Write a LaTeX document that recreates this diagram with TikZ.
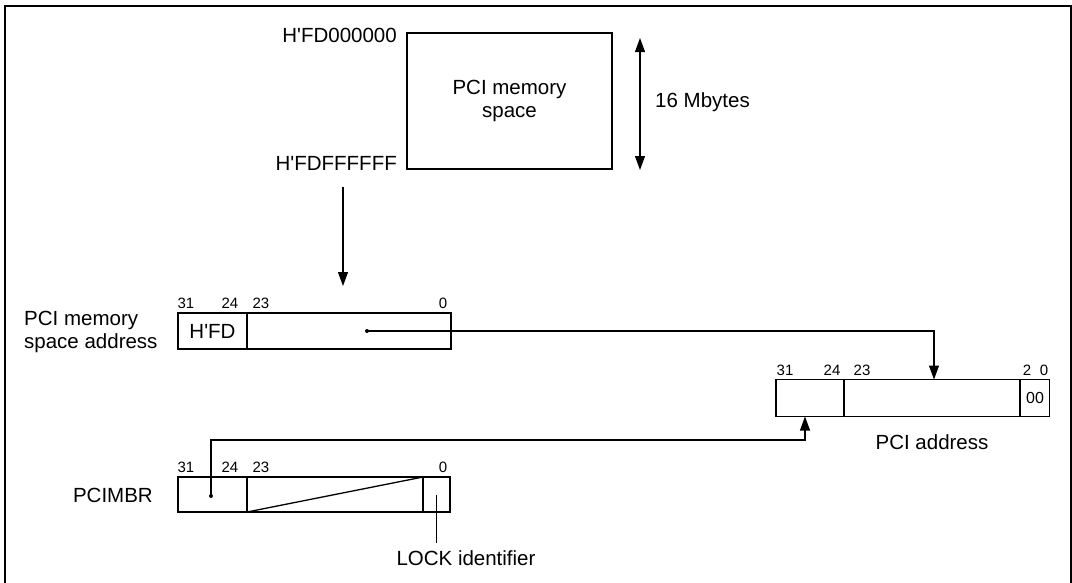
\documentclass[tikz,border=0pt]{standalone}
\usepackage{fontspec}
\setmainfont{Liberation Sans}
\usetikzlibrary{arrows.meta}
\newcommand{\apo}{\textquotesingle}
\tikzset{
  big/.style={font=\fontsize{20.5}{23}\selectfont, inner sep=0pt},
  small/.style={font=\fontsize{15}{17}\selectfont, inner sep=0pt},
  cell/.style={draw, line width=1.3pt, inner sep=0pt, outer sep=0pt},
  conn/.style={line width=1.1pt},
  tip/.style={-{Triangle[length=14pt,width=10pt]}},
  dot/.style={circle, fill, inner sep=0pt, minimum size=4pt},
}
\begin{document}
\begin{tikzpicture}[x=1pt,y=-1pt]
\useasboundingbox (0,0) rectangle (1072,582);
% frame
\draw[line width=1.7pt] (4.7,590) -- (4.7,5.7) -- (1071,5.7) -- (1071,590);

% memory space
\node[cell, minimum width=205, minimum height=136, big, align=center] (m) at (509.5,101) {PCI memory\\space};
\node[big, anchor=east] (lab0) at (397,35) {H\apo FD000000};
\node[big, anchor=east] (labF) at (397,163) {H\apo FDFFFFFF};
\coordinate (s0) at (640,38);
\coordinate (s1) at (640,170);
\draw[conn, {Triangle[length=14pt,width=10pt]}-{Triangle[length=14pt,width=10pt]}] (s0) -- (s1);
\node[big, anchor=west] (size) at (655,102) {16 Mbytes};

\coordinate (d0) at (343,187);
\coordinate (d1) at (343,286);
\draw[conn, tip] (d0) -- (d1);

% PCI memory space address
\node[cell, big, minimum width=69, minimum height=36] (a1) at (212.5,331) {H\apo FD};
\node[cell, minimum width=204, minimum height=36] (a2) at (349,331) {};
\node[big, anchor=west, align=left] (alab) at (24,332) {PCI memory\\space address};
\node[small] (a31) at (186,303) {31};
\node[small] (a24) at (230,303) {24};
\node[small] (a23) at (261,303) {23};
\node[small] (a0) at (443,303) {0};
\node[dot] (dot1) at (367,331) {};

% PCI address
\node[cell, minimum width=68, minimum height=37] (b1) at (810,398) {};
\node[cell, minimum width=176, minimum height=37] (b2) at (932,398) {};
\node[cell, font=\fontsize{16}{18}\selectfont, minimum width=29, minimum height=37] (b3) at (1035,398) {00};
\node[small] (b31) at (785,370) {31};
\node[small] (b24) at (832,370) {24};
\node[small] (b23) at (862,370) {23};
\node[small] (b2l) at (1027,370) {2};
\node[small] (b0) at (1044,370) {0};
\node[big] (blab) at (932,442) {PCI address};

\coordinate (t1) at (934,331);
\draw[conn, tip] (dot1.center) -- (t1) -- (t1 |- b2.north);

% PCIMBR
\node[cell, minimum width=69, minimum height=35] (c1) at (212.5,494.5) {};
\node[cell, minimum width=176, minimum height=35] (c2) at (335,494.5) {};
\node[cell, minimum width=27, minimum height=35] (c3) at (436.5,494.5) {};
\draw[line width=1.3pt] (c2.south west) -- (c2.north east);
\node[big, anchor=east] (clab) at (153,495) {PCIMBR};
\node[small] (c31) at (186,467) {31};
\node[small] (c24) at (230,467) {24};
\node[small] (c23) at (261,467) {23};
\node[small] (c0) at (443,467) {0};
\node[dot] (dot2) at (211,496) {};

\coordinate (k1) at (211,440);
\coordinate (k2) at (805,440);
\draw[conn, tip] (dot2.center) -- (k1) -- (k2) -- (k2 |- b1.south);

% LOCK identifier
\node[big] (lock) at (466,558) {LOCK identifier};
\coordinate (l1) at (436.5,543);
\draw[conn] (c3.center) -- (l1);
\end{tikzpicture}
\end{document}
